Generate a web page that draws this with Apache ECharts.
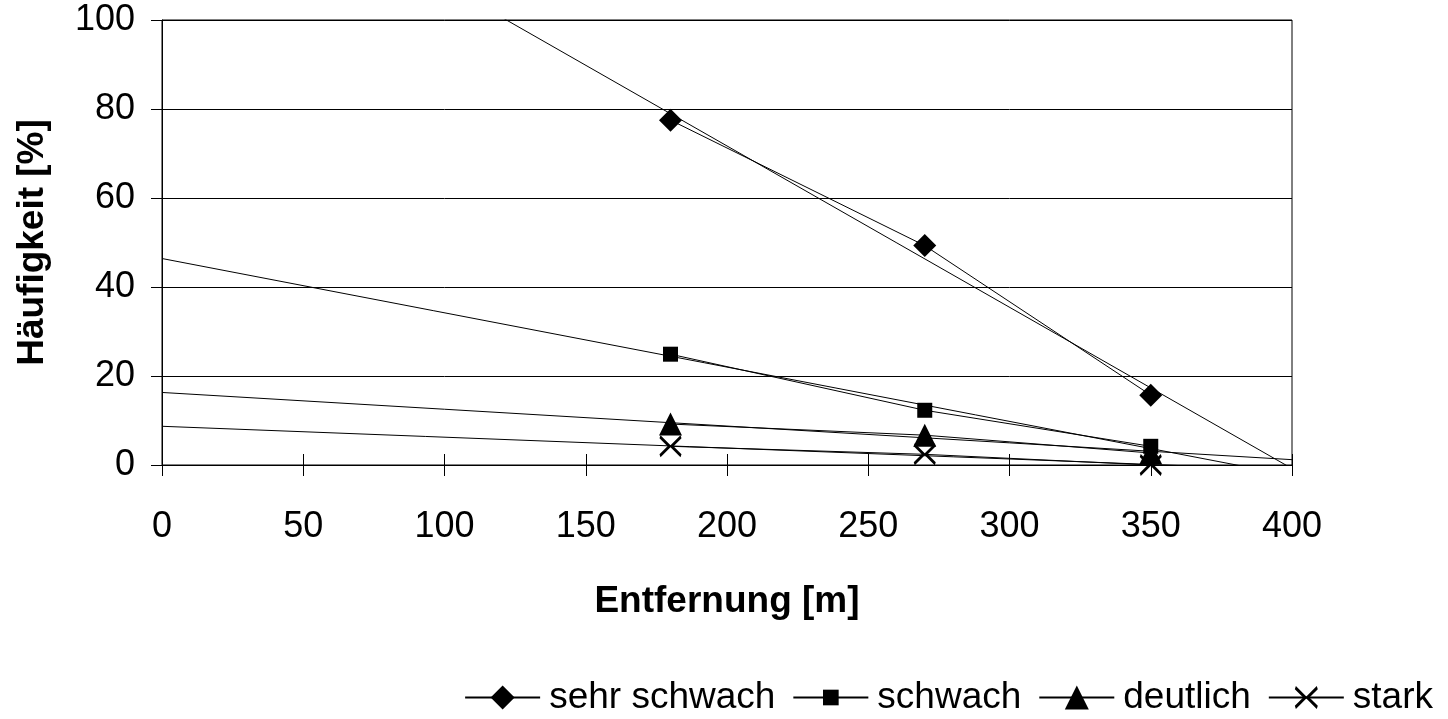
<!DOCTYPE html>
<html>
<head>
<meta charset="utf-8">
<script src="https://cdn.jsdelivr.net/npm/echarts@6/dist/echarts.min.js"></script>
<style>
html,body{margin:0;padding:0;background:#fff;}
#chart{width:1448px;height:719px;}
</style>
</head>
<body>
<div id="chart"></div>
<script>
// Distances [m]
var distances = [180, 270, 350];
// Frequencies [%]
var sehrSchwach = [77.5, 49.3, 15.7];
var schwach = [24.9, 12.3, 4.2];
var deutlich = [9.2, 6.7, 2.7];
var stark = [4.2, 2.4, 0];
// Linear trend lines (value at x=0 and x=400)
var trendX = [0, 400];
var trendSehrSchwach = [144.2, -0.8];
var trendSchwach = [46.4, -2.4];
var trendDeutlich = [16.3, 1.2];
var trendStark = [8.7, -1.1];
// Axis ticks
var xTicks = {min: 0, max: 400, interval: 50};
var yTicks = {min: 0, max: 100, interval: 20};
var seriesNames = ['sehr schwach', 'schwach', 'deutlich', 'stark'];

var FONT = "'Liberation Sans', Arial, Helvetica, sans-serif";
var SQUARE = 'path://M0,0M23,23M4,4L19,4L19,19L4,19Z';
var CROSS = 'path://M0,0M23,23M1.5,0.5L11.5,10.5L21.5,0.5L22.5,3.5L14.5,11.5L22.5,19.5L21.5,22.5L11.5,12.5L1.5,22.5L0.5,19.5L8.5,11.5L0.5,3.5Z';

function pairs(xs, ys) { return xs.map(function (x, i) { return [x, ys[i]]; }); }

function dataSeries(name, values, symbol) {
  return {
    name: name, type: 'line', data: pairs(distances, values),
    symbol: symbol, symbolSize: 23, z: 5,
    lineStyle: {color: '#000', width: 1},
    itemStyle: {color: '#000'},
    emphasis: {disabled: true}, animation: false
  };
}
function trendSeries(values) {
  return {
    type: 'line', data: pairs(trendX, values), symbol: 'none', z: 3,
    lineStyle: {color: '#000', width: 1}, silent: true, clip: true,
    emphasis: {disabled: true}, animation: false
  };
}

var chart = echarts.init(document.getElementById('chart'), null, {renderer: 'canvas'});
chart.setOption({
  backgroundColor: '#fff',
  animation: false,
  grid: {left: 162, right: 156, top: 20, bottom: 254, show: true, borderColor: '#000', borderWidth: 1, backgroundColor: 'transparent'},
  xAxis: [{
    type: 'value', position: 'bottom', min: xTicks.min, max: xTicks.max, interval: xTicks.interval,
    name: 'Entfernung [m]', nameLocation: 'middle', nameGap: 118,
    nameTextStyle: {fontFamily: FONT, fontSize: 37, fontWeight: 'bold', color: '#000'},
    axisLine: {show: true, lineStyle: {color: '#000', width: 1}},
    axisTick: {show: true, inside: false, length: 11, lineStyle: {color: '#000'}},
    axisLabel: {margin: 44, fontFamily: FONT, fontSize: 36, color: '#000'},
    splitLine: {show: false}
  }, {
    type: 'value', position: 'bottom', min: xTicks.min, max: xTicks.max, interval: xTicks.interval,
    axisLine: {show: false},
    axisTick: {show: true, inside: true, length: 11, lineStyle: {color: '#000'}},
    axisLabel: {show: false}, splitLine: {show: false}
  }],
  yAxis: [{
    type: 'value', min: yTicks.min, max: yTicks.max, interval: yTicks.interval,
    name: 'Häufigkeit [%]', nameLocation: 'middle', nameGap: 111,
    nameTextStyle: {fontFamily: FONT, fontSize: 37, fontWeight: 'bold', color: '#000'},
    axisLine: {show: true, lineStyle: {color: '#000', width: 1}},
    axisTick: {show: true, inside: false, length: 11, lineStyle: {color: '#000'}},
    axisLabel: {margin: 27, fontFamily: FONT, fontSize: 36, color: '#000'},
    splitLine: {show: true, lineStyle: {color: '#000', width: 1}}
  }],
  legend: {
    data: seriesNames, right: 15, top: 679, padding: 0,
    itemWidth: 75, itemHeight: 30, itemGap: 17,
    textStyle: {fontFamily: FONT, fontSize: 37, color: '#000', padding: [0, 0, 0, 4]},
    selectedMode: false
  },
  series: [
    trendSeries(trendSehrSchwach),
    trendSeries(trendSchwach),
    trendSeries(trendDeutlich),
    trendSeries(trendStark),
    dataSeries(seriesNames[0], sehrSchwach, 'diamond'),
    dataSeries(seriesNames[1], schwach, SQUARE),
    dataSeries(seriesNames[2], deutlich, 'triangle'),
    dataSeries(seriesNames[3], stark, CROSS)
  ]
});
</script>
</body>
</html>
